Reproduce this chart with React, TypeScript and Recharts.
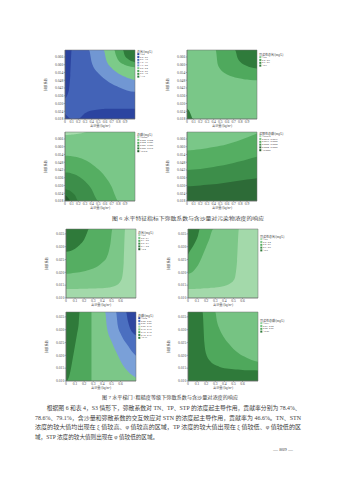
import React from 'react';
import { ComposedChart, Area, XAxis, YAxis, CartesianGrid, ReferenceArea } from 'recharts';

const NUM_FONT = '"Liberation Serif","Noto Sans CJK SC",serif';
const CJK_FONT = '"Liberation Serif","Noto Sans CJK SC",sans-serif';

// ---- axis settings ----
const T6 = 0.0714;
const B6 = 0.018;
const R6 = 1.05;
const T7 = 0.0369;
const B7 = 0.01;
const R7 = 0.77;

const fig6XTicks = [0, 0.1, 0.2, 0.3, 0.4, 0.5, 0.6, 0.7, 0.8, 0.9];
const fig6YTicks = [0.018, 0.024, 0.03, 0.036, 0.042, 0.048, 0.054, 0.06, 0.066];
const fig7XTicks = [0, 0.1, 0.2, 0.3, 0.4, 0.5, 0.6];
const fig7YTicks = [0.01, 0.015, 0.02, 0.025, 0.03, 0.035];

// ---- Panel 1 (图6 总氮) ----
const p1X = [0, 0.03, 0.06, 0.08, 0.1, 0.2, 0.3, 0.34, 0.36, 0.4, 0.5, 0.56, 0.58, 0.62, 0.7, 0.74, 0.76, 0.8, 0.87, 0.89, 0.93, 1.05];
const p1LightBlue = [T6, T6, T6, T6, T6, T6, T6, T6, T6, 0.062, 0.0535, 0.0505, 0.0495, 0.048, 0.0452, 0.0442, 0.0437, 0.0428, 0.0412, 0.0408, 0.0401, 0.039];
const p1LightGreen = [T6, T6, T6, T6, T6, T6, T6, T6, T6, T6, T6, T6, T6, 0.0635, 0.0575, 0.0555, 0.0547, 0.0533, 0.0513, 0.0508, 0.05, 0.048];
const p1MidGreen = [T6, T6, T6, T6, T6, T6, T6, T6, T6, T6, T6, T6, T6, T6, T6, T6, 0.068, 0.0635, 0.0605, 0.06, 0.0592, 0.058];
const p1DarkGreen = [T6, T6, T6, T6, T6, T6, T6, T6, T6, T6, T6, T6, T6, T6, T6, T6, T6, T6, T6, 0.068, 0.065, 0.062];
const p1DarkBlueLeft = [0.034, 0.036, 0.041, 0.052, T6, T6, T6, T6, T6, T6, T6, T6, T6, T6, T6, T6, T6, T6, T6, T6, T6, T6];
const p1DarkBlueBottom = [0.022, 0.0205, 0.019, 0.0183, 0.018, 0.0183, 0.0225, 0.0236, 0.024, 0.0246, 0.0254, 0.0257, 0.0258, 0.0259, 0.026, 0.026, 0.026, 0.026, 0.026, 0.026, 0.026, 0.026];

// ---- Panel 2 (图6 可溶性总氮) ----
const p2X = [0, 0.03, 0.06, 0.08, 0.1, 0.2, 0.3, 0.4, 0.43, 0.46, 0.5, 0.55, 0.6, 0.7, 0.72, 0.76, 0.8, 0.85, 0.9, 0.95, 1.05];
const p2MidGreen = [T6, T6, T6, T6, T6, T6, T6, T6, T6, 0.0605, 0.0565, 0.054, 0.0525, 0.0505, 0.0502, 0.0497, 0.0493, 0.0488, 0.0485, 0.0482, 0.048];
const p2DarkGreen = [T6, T6, T6, T6, T6, T6, T6, T6, T6, T6, T6, T6, T6, T6, T6, 0.065, 0.0622, 0.0602, 0.059, 0.058, 0.057];
const p2DarkCorner = [0.026, 0.0245, 0.021, 0.0185, B6, B6, B6, B6, B6, B6, B6, B6, B6, B6, B6, B6, B6, B6, B6, B6, B6];

// ---- Panel 3 (图6 总磷) ----
const p3X = [0, 0.03, 0.06, 0.08, 0.1, 0.15, 0.2, 0.25, 0.3, 0.35, 0.4, 0.45, 0.5, 0.55, 0.6, 0.65, 0.7, 0.75, 0.8, 0.9, 1.05];
const p3TopLight = [0.069, 0.069, 0.0692, 0.0692, 0.0694, 0.0697, 0.07, 0.0705, 0.0712, T6, T6, T6, T6, T6, T6, T6, T6, T6, T6, T6, T6];
const p3Mid = [0.053, 0.053, 0.0529, 0.0528, 0.0527, 0.0523, 0.0517, 0.0508, 0.0497, 0.0483, 0.0467, 0.0447, 0.0425, 0.04, 0.037, 0.0335, 0.029, 0.0225, B6, B6, B6];
const p3Dark = [0.04, 0.04, 0.0398, 0.0396, 0.0393, 0.0385, 0.0372, 0.0355, 0.0333, 0.0305, 0.027, 0.0215, B6, B6, B6, B6, B6, B6, B6, B6, B6];
const p3Darker = [0.027, 0.0268, 0.0263, 0.0258, 0.025, 0.0225, B6, B6, B6, B6, B6, B6, B6, B6, B6, B6, B6, B6, B6, B6, B6];
const p3Darkest = [0.0225, 0.0215, 0.0195, B6, B6, B6, B6, B6, B6, B6, B6, B6, B6, B6, B6, B6, B6, B6, B6, B6, B6];

// ---- Panel 4 (图6 溶解性总磷) ----
const p4X = [0, 0.1, 0.2, 0.3, 0.4, 0.5, 0.6, 0.7, 0.8, 0.9, 1.05];
const p4Band1 = [0.057, 0.0575, 0.058, 0.0588, 0.0597, 0.0607, 0.062, 0.0635, 0.0652, 0.0672, 0.0702];
const p4Band2 = [0.042, 0.0423, 0.0428, 0.0435, 0.0443, 0.0452, 0.0463, 0.0475, 0.0488, 0.0502, 0.0522];
const p4Band3 = [0.0295, 0.0297, 0.03, 0.0305, 0.031, 0.0316, 0.0323, 0.033, 0.0338, 0.0346, 0.0357];

// ---- Panel 5 (图7 总氮) ----
const p5X = [0, 0.05, 0.1, 0.15, 0.2, 0.23, 0.25, 0.3, 0.35, 0.4, 0.45, 0.47, 0.49, 0.51, 0.55, 0.58, 0.6, 0.62, 0.635, 0.65, 0.7, 0.77];
const p5Outer = [0.0135, 0.0135, 0.0135, 0.0136, 0.0136, 0.0136, 0.0137, 0.0137, 0.0138, 0.0138, 0.014, 0.0141, 0.0142, 0.0144, 0.0149, 0.0156, 0.0165, 0.0185, 0.024, T7, T7, T7];
const p5Middle = [0.0195, 0.0196, 0.0198, 0.02, 0.0204, 0.0207, 0.0209, 0.0215, 0.0224, 0.0238, 0.026, 0.028, 0.0315, T7, T7, T7, T7, T7, T7, T7, T7, T7];
const p5Inner = [0.028, 0.0283, 0.0292, 0.0307, 0.0328, 0.0352, T7, T7, T7, T7, T7, T7, T7, T7, T7, T7, T7, T7, T7, T7, T7, T7];

// ---- Panel 6 (图7 可溶性总氮) ----
const p6X = [0, 0.03, 0.06, 0.09, 0.11, 0.13, 0.15, 0.2, 0.24, 0.26, 0.28, 0.3, 0.35, 0.4, 0.45, 0.5, 0.52, 0.54, 0.56, 0.6, 0.7, 0.77];
const p6Outer = [0.0135, 0.0135, 0.0135, 0.0136, 0.0136, 0.0136, 0.0137, 0.0138, 0.0139, 0.014, 0.014, 0.0141, 0.0143, 0.0147, 0.0154, 0.0168, 0.0185, 0.0245, T7, T7, T7, T7];
const p6Middle = [0.0194, 0.0197, 0.0205, 0.0218, 0.0228, 0.0241, 0.0257, 0.03, 0.0335, 0.0358, T7, T7, T7, T7, T7, T7, T7, T7, T7, T7, T7, T7];
const p6Inner = [0.027, 0.0288, 0.0305, 0.0325, 0.0343, T7, T7, T7, T7, T7, T7, T7, T7, T7, T7, T7, T7, T7, T7, T7, T7, T7];

// ---- Panel 7 (图7 总磷) ----
const p7X = [0, 0.02, 0.04, 0.055, 0.075, 0.095, 0.12, 0.14, 0.15, 0.2, 0.27, 0.28, 0.35, 0.42, 0.43, 0.45, 0.5, 0.53, 0.55, 0.57, 0.6, 0.64, 0.66, 0.68, 0.7, 0.73, 0.77];
const p7MidGreen = [T7, T7, T7, T7, T7, T7, T7, T7, T7, T7, T7, B7, B7, B7, B7, B7, B7, B7, B7, B7, B7, B7, B7, B7, B7, B7, B7];
const p7DarkGreen = [B7, 0.0105, 0.0125, 0.015, 0.019, 0.023, 0.028, 0.0325, T7, T7, T7, T7, T7, T7, T7, T7, T7, T7, T7, T7, T7, T7, T7, T7, T7, T7, T7];
const p7LightBlue = [T7, T7, T7, T7, T7, T7, T7, T7, T7, T7, T7, T7, T7, T7, T7, 0.031, 0.0255, 0.023, 0.0215, 0.02, 0.0178, 0.0155, 0.0146, 0.0138, 0.013, 0.0122, 0.0113];
const p7MidBlue = [T7, T7, T7, T7, T7, T7, T7, T7, T7, T7, T7, T7, T7, T7, T7, T7, T7, T7, T7, 0.0315, 0.0285, 0.0258, 0.0248, 0.0238, 0.0228, 0.0213, 0.0198];
const p7DarkBlue = [T7, T7, T7, T7, T7, T7, T7, T7, T7, T7, T7, T7, T7, T7, T7, T7, T7, T7, T7, T7, T7, T7, T7, 0.0335, 0.031, 0.029, 0.0278];

// ---- Panel 8 (图7 可溶性总磷) ----
const p8X = [0, 0.1, 0.16, 0.18, 0.2, 0.25, 0.3, 0.32, 0.35, 0.4, 0.45, 0.5, 0.55, 0.6, 0.65, 0.7, 0.77];
const p8Middle = [T7, T7, T7, T7, T7, T7, T7, 0.033, 0.03, 0.0268, 0.0245, 0.0225, 0.021, 0.0198, 0.019, 0.0182, 0.0175];
const p8Inner = [T7, T7, T7, 0.025, 0.0205, 0.0175, 0.0162, 0.0159, 0.0155, 0.015, 0.0148, 0.0146, 0.0145, 0.0143, 0.0142, 0.0142, 0.0141];

// ---- legends ----
const l1Title = '总氮/(mg/L)';
const l1Labels = ['≤0.4', '0.4~0.8', '0.8~1.2', '1.2~1.6', '1.6~2.0', '2.0~2.4', '2.4~2.8', '2.8~3.2', '>3.2'];
const l1Colors = ['#2b44a0', '#3a56ad', '#4363b7', '#5a7fc6', '#7197d3', '#7ccb89', '#4fa95d', '#3d8e4a', '#2f7b3b'];
const l2Title = '可溶性总氮/(mg/L)';
const l2Labels = ['≤0.4', '0.4~0.5', '0.5~0.6', '>0.6'];
const l2Colors = ['#7ac788', '#4fa95d', '#3d8e4a', '#2f7b3b'];
const l3Title = '总磷/(mg/L)';
const l3Labels = ['≤0.022', '0.022~0.024', '0.024~0.026', '0.026~0.028', '0.028~0.030', '>0.030'];
const l3Colors = ['#a7dcad', '#7ac788', '#55ae62', '#3d8e4a', '#2f7a3a', '#245c2c'];
const l4Title = '溶解性总磷/(mg/L)';
const l4Labels = ['≤0.0212', '0.0212~0.0216', '0.0216~0.0220', '0.0220~0.0224', '0.0224~0.0228', '>0.0228'];
const l4Colors = ['#a7dcad', '#7ac788', '#55ae62', '#3d8e4a', '#2d6b37', '#245c2c'];
const l5Title = '总氮/(mg/L)';
const l5Labels = ['≤2.0', '2.0~2.1', '2.1~2.2', '2.2~2.3', '2.3~2.4', '>2.4'];
const l5Colors = ['#a3d9aa', '#7cc788', '#55ae62', '#3d8e4a', '#2f7a3a', '#245c2c'];
const l6Title = '可溶性总氮/(mg/L)';
const l6Labels = ['≤0.2', '0.2~0.4', '0.4~0.6', '0.6~0.8', '>0.8'];
const l6Colors = ['#a3d9aa', '#7cc788', '#55ae62', '#3d8e4a', '#2f7a3a'];
const l7Title = '总磷/(mg/L)';
const l7Labels = ['≤0.04', '0.04~0.06', '0.06~0.08', '0.08~0.10', '0.10~0.12', '0.12~0.14', '0.14~0.16', '>0.16'];
const l7Colors = ['#2d46a0', '#4b6fc0', '#7aa0d8', '#a3d9aa', '#7cc788', '#4fa85c', '#3d8e4a', '#2f7a3a'];
const l8Title = '可溶性总磷/(mg/L)';
const l8Labels = ['≤0.03', '0.03~0.04', '0.04~0.05', '>0.05'];
const l8Colors = ['#8fd09a', '#76c383', '#4fa85c', '#2f7a3a'];

// ---- text ----
const yTitle = '弥散系数';
const xTitle = '含沙量/(kg/m³)';
const caption6 = '图 6  水平特征指标下弥散系数与含沙量对污染物浓度的响应';
const caption7 = '图 7  水平梯门+粗糙度等级下弥散系数与含沙量对浓度的响应';
const paraLines = [
  '根据图 6 和表 4，S3 情形下，弥散系数对 TN、TP、STP 的浓度起主导作用，贡献率分别为 78.4%、',
  '78.6%、79.1%，含沙量和弥散系数的交互效应对 STN 的浓度起主导作用，贡献率为 46.6%。TN、STN',
  '浓度的较大值均出现在 ξ 值较高、φ 值较高的区域，TP 浓度的较大值出现在 ξ 值较低、φ 值较低的区',
  '域，STP 浓度的较大值则出现在 φ 值较低的区域。',
];
const pageNo = '— 809 —';

type Layer = { values: number[]; color: string; side: 'above' | 'below'; step?: boolean };
type PanelDef = {
  left: number; top: number; fig: 6 | 7; x: number[]; bg: string; layers: Layer[];
  legend: { title: string; labels: string[]; colors: string[]; dx: number; dy: number };
};

const panels: PanelDef[] = [
  {
    left: 40, top: 48, fig: 6, x: p1X, bg: '#4363b7',
    layers: [
      { values: p1LightBlue, color: '#7197d3', side: 'above' },
      { values: p1LightGreen, color: '#7ccb89', side: 'above' },
      { values: p1MidGreen, color: '#4fa95d', side: 'above' },
      { values: p1DarkGreen, color: '#2f7b3b', side: 'above' },
      { values: p1DarkBlueLeft, color: '#2b44a0', side: 'above' },
      { values: p1DarkBlueBottom, color: '#2b44a0', side: 'below' },
    ],
    legend: { title: l1Title, labels: l1Labels, colors: l1Colors, dx: 2, dy: 0 },
  },
  {
    left: 162, top: 48, fig: 6, x: p2X, bg: '#7ac788',
    layers: [
      { values: p2MidGreen, color: '#4fa95d', side: 'above' },
      { values: p2DarkGreen, color: '#2f7b3b', side: 'above' },
      { values: p2DarkCorner, color: '#2f7b3b', side: 'below' },
    ],
    legend: { title: l2Title, labels: l2Labels, colors: l2Colors, dx: 2, dy: 3 },
  },
  {
    left: 40, top: 130, fig: 6, x: p3X, bg: '#7ac788',
    layers: [
      { values: p3TopLight, color: '#a7dcad', side: 'above' },
      { values: p3Mid, color: '#55ae62', side: 'below' },
      { values: p3Dark, color: '#3d8e4a', side: 'below' },
      { values: p3Darker, color: '#2f7a3a', side: 'below' },
      { values: p3Darkest, color: '#245c2c', side: 'below' },
    ],
    legend: { title: l3Title, labels: l3Labels, colors: l3Colors, dx: 2, dy: 1 },
  },
  {
    left: 162, top: 130, fig: 6, x: p4X, bg: '#7ac788',
    layers: [
      { values: p4Band1, color: '#55ae62', side: 'below' },
      { values: p4Band2, color: '#3d8e4a', side: 'below' },
      { values: p4Band3, color: '#2d6b37', side: 'below' },
    ],
    legend: { title: l4Title, labels: l4Labels, colors: l4Colors, dx: 2, dy: 0 },
  },
  {
    left: 41, top: 227, fig: 7, x: p5X, bg: '#a3d9aa',
    layers: [
      { values: p5Outer, color: '#7cc788', side: 'above' },
      { values: p5Middle, color: '#55ae62', side: 'above' },
      { values: p5Inner, color: '#2f7a3a', side: 'above' },
    ],
    legend: { title: l5Title, labels: l5Labels, colors: l5Colors, dx: 2, dy: 2 },
  },
  {
    left: 163, top: 227, fig: 7, x: p6X, bg: '#a3d9aa',
    layers: [
      { values: p6Outer, color: '#7cc788', side: 'above' },
      { values: p6Middle, color: '#55ae62', side: 'above' },
      { values: p6Inner, color: '#2f7a3a', side: 'above' },
    ],
    legend: { title: l6Title, labels: l6Labels, colors: l6Colors, dx: 2, dy: 6 },
  },
  {
    left: 41, top: 310, fig: 7, x: p7X, bg: '#7cc788',
    layers: [
      { values: p7MidGreen, color: '#4fa85c', side: 'below', step: true },
      { values: p7DarkGreen, color: '#2f7a3a', side: 'above' },
      { values: p7LightBlue, color: '#7aa0d8', side: 'above' },
      { values: p7MidBlue, color: '#4b6fc0', side: 'above' },
      { values: p7DarkBlue, color: '#2d46a0', side: 'above' },
    ],
    legend: { title: l7Title, labels: l7Labels, colors: l7Colors, dx: 2, dy: 2 },
  },
  {
    left: 163, top: 310, fig: 7, x: p8X, bg: '#76c383',
    layers: [
      { values: p8Middle, color: '#4fa85c', side: 'below' },
      { values: p8Inner, color: '#2f7a3a', side: 'below' },
    ],
    legend: { title: l8Title, labels: l8Labels, colors: l8Colors, dx: 2, dy: 7 },
  },
];

const CHART_W = 97;
const CHART_H = 79;
const PLOT_L = 25;
const PLOT_T = 2;
const PLOT_W = 70;
const PLOT_H = 69;

function Panel({ p }: { p: PanelDef }) {
  const top = p.fig === 6 ? T6 : T7;
  const bot = p.fig === 6 ? B6 : B7;
  const right = p.fig === 6 ? R6 : R7;
  const rows = p.x.map((xv, i) => {
    const r: Record<string, number> = { x: xv };
    p.layers.forEach((l, j) => {
      r['s' + j] = l.values[i];
    });
    return r;
  });
  const tickStyle = { fontSize: 3.6, fill: '#444', fontFamily: NUM_FONT };
  return (
    <div style={{ position: 'absolute', left: p.left, top: p.top }}>
      <ComposedChart width={CHART_W} height={CHART_H} data={rows} margin={{ top: PLOT_T, right: 2, left: 0, bottom: 0 }}>
        <CartesianGrid fill={p.bg} fillOpacity={1} stroke="none" horizontal={false} vertical={false} />
        <XAxis
          type="number" dataKey="x" domain={[0, right]} allowDataOverflow
          ticks={p.fig === 6 ? fig6XTicks : fig7XTicks} interval={0} height={8}
          tickSize={1.2} tickMargin={0.4} tick={tickStyle}
          tickFormatter={(v: number) => String(v)}
          axisLine={{ stroke: '#666', strokeWidth: 0.5 }} tickLine={{ stroke: '#666', strokeWidth: 0.5 }}
        />
        <YAxis
          type="number" domain={[bot, top]} allowDataOverflow
          ticks={p.fig === 6 ? fig6YTicks : fig7YTicks} interval={0} width={PLOT_L}
          tickSize={1.2} tickMargin={0.6} tick={tickStyle}
          tickFormatter={(v: number) => v.toFixed(3)}
          axisLine={{ stroke: '#666', strokeWidth: 0.5 }} tickLine={{ stroke: '#666', strokeWidth: 0.5 }}
        />
        {p.layers.map((l, j) => (
          <Area
            key={j}
            dataKey={'s' + j}
            type={l.step ? 'stepAfter' : 'monotone'}
            baseValue={l.side === 'above' ? top : bot}
            fill={l.color}
            fillOpacity={1}
            stroke="none"
            dot={false}
            activeDot={false}
            isAnimationActive={false}
          />
        ))}
        <ReferenceArea x1={0} x2={right} y1={bot} y2={top} fill="none" stroke="#6f6f6f" strokeWidth={0.5} ifOverflow="visible" />
      </ComposedChart>
    </div>
  );
}

function Overlay() {
  const txt = '#3c3c3c';
  return (
    <svg width={339} height={480} style={{ position: 'absolute', left: 0, top: 0, pointerEvents: 'none' }}>
      {panels.map((p, i) => {
        const pl = p.left + PLOT_L;
        const pt = p.top + PLOT_T;
        const lx = pl + PLOT_W + p.legend.dx;
        const ly = pt + p.legend.dy;
        return (
          <g key={i}>
            <text
              x={pl - 19} y={pt + PLOT_H / 2} fontSize={3.2} fill="#444" fontFamily={CJK_FONT}
              textAnchor="middle" dominantBaseline="central"
              transform={`rotate(-90 ${pl - 19} ${pt + PLOT_H / 2})`}
            >{yTitle}</text>
            <text x={pl + PLOT_W / 2} y={pt + PLOT_H + 7.3} fontSize={3.2} fill="#444" fontFamily={CJK_FONT}
              textAnchor="middle" dominantBaseline="central">{xTitle}</text>
            <text x={lx} y={ly + 1.5} fontSize={3} fill="#444" fontFamily={CJK_FONT} dominantBaseline="central">{p.legend.title}</text>
            {p.legend.labels.map((lab, k) => (
              <g key={k}>
                <rect x={lx + 0.3} y={ly + 3.2 + k * 2.8} width={2} height={2} fill={p.legend.colors[k]} />
                <text x={lx + 3} y={ly + 4.2 + k * 2.8} fontSize={2.6} fill="#444" fontFamily={NUM_FONT} dominantBaseline="central">{lab}</text>
              </g>
            ))}
          </g>
        );
      })}
      <text x={188} y={218} fontSize={4.6} fill={txt} fontFamily={CJK_FONT} textAnchor="middle" dominantBaseline="central"
        textLength={152} lengthAdjust="spacingAndGlyphs">{caption6}</text>
      <text x={170} y={397} fontSize={4.6} fill={txt} fontFamily={CJK_FONT} textAnchor="middle" dominantBaseline="central"
        textLength={136} lengthAdjust="spacingAndGlyphs">{caption7}</text>
      <text x={46.7} y={408} fontSize={5.6} fill={txt} fontFamily={CJK_FONT} dominantBaseline="central"
        textLength={254} lengthAdjust="spacingAndGlyphs">{paraLines[0]}</text>
      <text x={35} y={417.5} fontSize={5.6} fill={txt} fontFamily={CJK_FONT} dominantBaseline="central"
        textLength={266} lengthAdjust="spacingAndGlyphs">{paraLines[1]}</text>
      <text x={35} y={427} fontSize={5.6} fill={txt} fontFamily={CJK_FONT} dominantBaseline="central"
        textLength={266} lengthAdjust="spacingAndGlyphs">{paraLines[2]}</text>
      <text x={35} y={436.5} fontSize={5.6} fill={txt} fontFamily={CJK_FONT} dominantBaseline="central">{paraLines[3]}</text>
      <text x={283} y={449} fontSize={5} fill={txt} fontFamily={NUM_FONT} textAnchor="middle" dominantBaseline="central">{pageNo}</text>
    </svg>
  );
}

export default function App() {
  return (
    <div style={{ position: 'absolute', left: 0, top: 0, width: 339, height: 480, background: '#fff', overflow: 'hidden' }}>
      {panels.map((p, i) => (
        <Panel key={i} p={p} />
      ))}
      <Overlay />
    </div>
  );
}
